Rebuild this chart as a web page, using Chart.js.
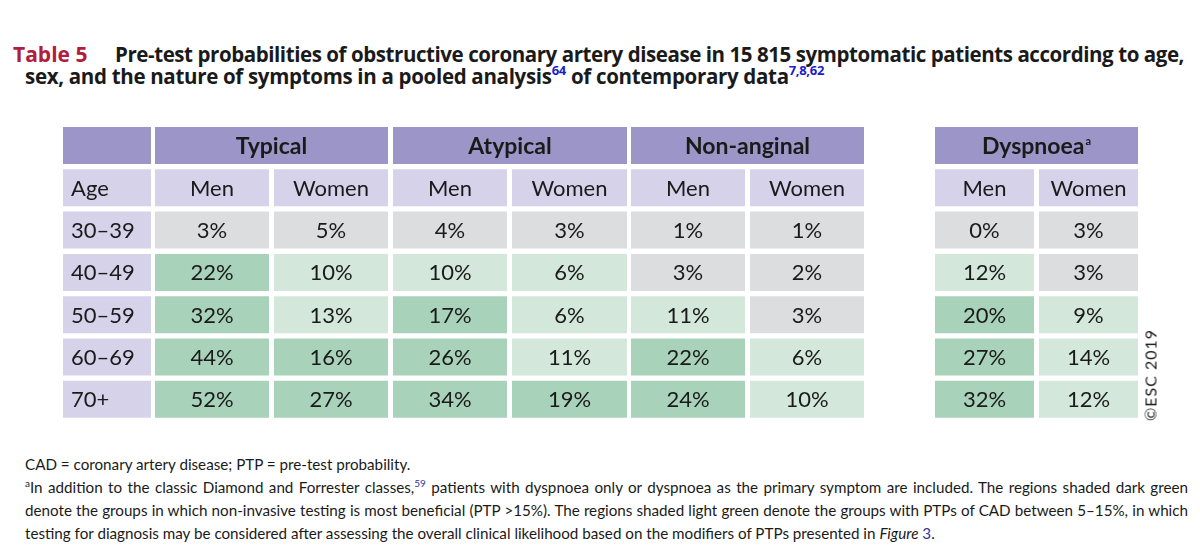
<!DOCTYPE html>
<html lang="en">
<head>
<meta charset="UTF-8">
<title>Table 5 - Pre-test probabilities of obstructive coronary artery disease</title>
<script src="https://cdn.jsdelivr.net/npm/chart.js"></script>
<style>
  body { margin: 0; width: 1200px; height: 552px; overflow: hidden; position: relative; background: #fff; color: #1a1a1a; font-family: Lato, sans-serif; }
  .title { position: absolute; white-space: nowrap; font-family: "Open Sans", sans-serif; font-weight: 700; font-size: 20.5px; line-height: 20px; color: #1a1a1a; }
  .tnum { color: #b01e3c; font-size: 21px; }
  .tsup { color: #1d1dc8; font-size: 13px; position: relative; top: -9px; }
  #table { position: absolute; left: 0; top: 120px; }
  .note { position: absolute; left: 25px; width: 1163px; font-size: 15.2px; line-height: 23px; white-space: nowrap; }
  .note.just { text-align: justify; text-align-last: justify; }
  .nsup { font-size: 10px; position: relative; top: -6px; }
  .blue { color: #33339a; }
  #esc { position: absolute; left: 1150px; top: 375px; transform: translate(-50%, -50%) rotate(-90deg); font-size: 16px; letter-spacing: 1px; white-space: nowrap; }
</style>
</head>
<body>
  <div class="title" style="left:13px; top:44px;"><span class="tnum">Table 5</span></div>
  <div class="title" id="t1" style="left:115px; top:44px;">Pre-test probabilities of obstructive coronary artery disease in 15 815 symptomatic patients according to age,</div>
  <div class="title" id="t2" style="left:25px; top:66px;">sex, and the nature of symptoms in a pooled analysis<span class="tsup">64</span> of contemporary data<span class="tsup">7,8,62</span></div>

  <canvas id="table" width="1200" height="310"></canvas>

  <div id="esc">©ESC 2019</div>

  <div class="note" style="top:453px;">CAD = coronary artery disease; PTP = pre-test probability.</div>
  <div class="note just" style="top:476px;"><span class="nsup">a</span>In addition to the classic Diamond and Forrester classes,<span class="nsup blue">59</span> patients with dyspnoea only or dyspnoea as the primary symptom are included. The regions shaded dark green</div>
  <div class="note just" style="top:499px;">denote the groups in which non-invasive testing is most beneficial (PTP &gt;15%). The regions shaded light green denote the groups with PTPs of CAD between 5&#8211;15%, in which</div>
  <div class="note" style="top:522px;">testing for diagnosis may be considered after assessing the overall clinical likelihood based on the modifiers of PTPs presented in <i>Figure</i> <span class="blue">3</span>.</div>

<script>
  // Datos de la tabla
  const ageGroups = ['30–39', '40–49', '50–59', '60–69', '70+'];
  const symptomGroups = ['Typical', 'Atypical', 'Non-anginal', 'Dyspnoea'];
  const sexes = ['Men', 'Women'];
  const typicalMen = [3, 22, 32, 44, 52];
  const typicalWomen = [5, 10, 13, 16, 27];
  const atypicalMen = [4, 10, 17, 26, 34];
  const atypicalWomen = [3, 6, 6, 11, 19];
  const nonAnginalMen = [1, 3, 11, 22, 24];
  const nonAnginalWomen = [1, 2, 3, 6, 10];
  const dyspnoeaMen = [0, 12, 20, 27, 32];
  const dyspnoeaWomen = [3, 3, 9, 14, 12];

  const series = [typicalMen, typicalWomen, atypicalMen, atypicalWomen,
                  nonAnginalMen, nonAnginalWomen, dyspnoeaMen, dyspnoeaWomen];

  // Disposición de columnas (px en el eje x)
  const ageCol = [63, 151];
  const valueCols = [[155, 269], [274, 388], [393, 507], [512, 627],
                     [631, 745], [750, 864], [935, 1034], [1039, 1138]];

  const colors = {
    header: '#9c95c7',
    sub: '#d5d2ea',
    gray: '#dcdddf',
    light: '#d3e8db',
    dark: '#a9d2ba'
  };

  function shade(v) {
    if (v > 15) return colors.dark;
    if (v > 5) return colors.light;
    return colors.gray;
  }

  const rowLabels = ['group', 'sex'].concat(ageGroups);
  const datasets = [];

  // Fila de encabezado: celda vacía + grupos de síntomas
  const headerSpans = [ageCol].concat(symptomGroups.map((g, i) => [valueCols[i * 2][0], valueCols[i * 2 + 1][1]]));
  const headerTexts = [''].concat(symptomGroups);
  headerSpans.forEach((span, i) => {
    datasets.push({
      data: rowLabels.map((r, j) => j === 0 ? span : null),
      cellLabels: rowLabels.map((r, j) => j === 0 ? headerTexts[i] : null),
      sup: headerTexts[i] === 'Dyspnoea' ? 'a' : null,
      bold: true,
      backgroundColor: colors.header
    });
  });

  // Columna de edad
  datasets.push({
    data: rowLabels.map((r, j) => j === 0 ? null : ageCol),
    cellLabels: rowLabels.map((r, j) => j === 0 ? null : (j === 1 ? 'Age' : ageGroups[j - 2])),
    alignLeft: true,
    backgroundColor: colors.sub
  });

  // Columnas de valores
  series.forEach((vals, k) => {
    datasets.push({
      data: rowLabels.map((r, j) => j === 0 ? null : valueCols[k]),
      cellLabels: rowLabels.map((r, j) => j === 0 ? null : (j === 1 ? sexes[k % 2] : vals[j - 2] + '%')),
      backgroundColor: rowLabels.map((r, j) => j > 1 ? shade(vals[j - 2]) : colors.sub)
    });
  });

  const cellText = {
    id: 'cellText',
    afterDatasetsDraw(chart) {
      const ctx = chart.ctx;
      ctx.save();
      ctx.fillStyle = '#1a1a1a';
      ctx.textBaseline = 'middle';
      chart.data.datasets.forEach((ds, i) => {
        const meta = chart.getDatasetMeta(i);
        meta.data.forEach((bar, j) => {
          const label = ds.cellLabels[j];
          if (!label) return;
          const p = bar.getProps(['x', 'y', 'base'], true);
          const left = Math.min(p.x, p.base);
          const right = Math.max(p.x, p.base);
          ctx.font = ds.bold ? 'bold 23px Lato' : '22px Lato';
          const yy = p.y + 1;
          if (ds.alignLeft) {
            ctx.textAlign = 'left';
            ctx.fillText(label, left + 8, yy);
          } else if (ds.sup) {
            const w = ctx.measureText(label).width;
            ctx.font = 'bold 11px Lato';
            const ws = ctx.measureText(ds.sup).width;
            const x0 = (left + right) / 2 - (w + ws + 1) / 2;
            ctx.textAlign = 'left';
            ctx.font = 'bold 23px Lato';
            ctx.fillText(label, x0, yy);
            ctx.font = 'bold 11px Lato';
            ctx.fillText(ds.sup, x0 + w + 1, yy - 5);
          } else {
            ctx.textAlign = 'center';
            ctx.fillText(label, (left + right) / 2, yy);
          }
        });
      });
      ctx.restore();
    }
  };

  new Chart(document.getElementById('table'), {
    type: 'bar',
    data: { labels: rowLabels, datasets: datasets },
    options: {
      indexAxis: 'y',
      responsive: false,
      animation: false,
      events: [],
      grouped: false,
      categoryPercentage: 1,
      barPercentage: 0.875,
      layout: { padding: { top: 4.35, bottom: 9.55, left: 0, right: 0 } },
      plugins: { legend: { display: false }, tooltip: { enabled: false } },
      scales: {
        x: { type: 'linear', min: 0, max: 1200, display: false },
        y: { type: 'category', display: false }
      }
    },
    plugins: [cellText]
  });

  // Ajustar el ancho de las líneas del título
  function fitLine(id, width) {
    const el = document.getElementById(id);
    const w = el.getBoundingClientRect().width;
    const n = el.textContent.length;
    el.style.letterSpacing = ((width - w) / n) + 'px';
  }
  fitLine('t1', 1069);
  fitLine('t2', 799);
</script>
</body>
</html>
